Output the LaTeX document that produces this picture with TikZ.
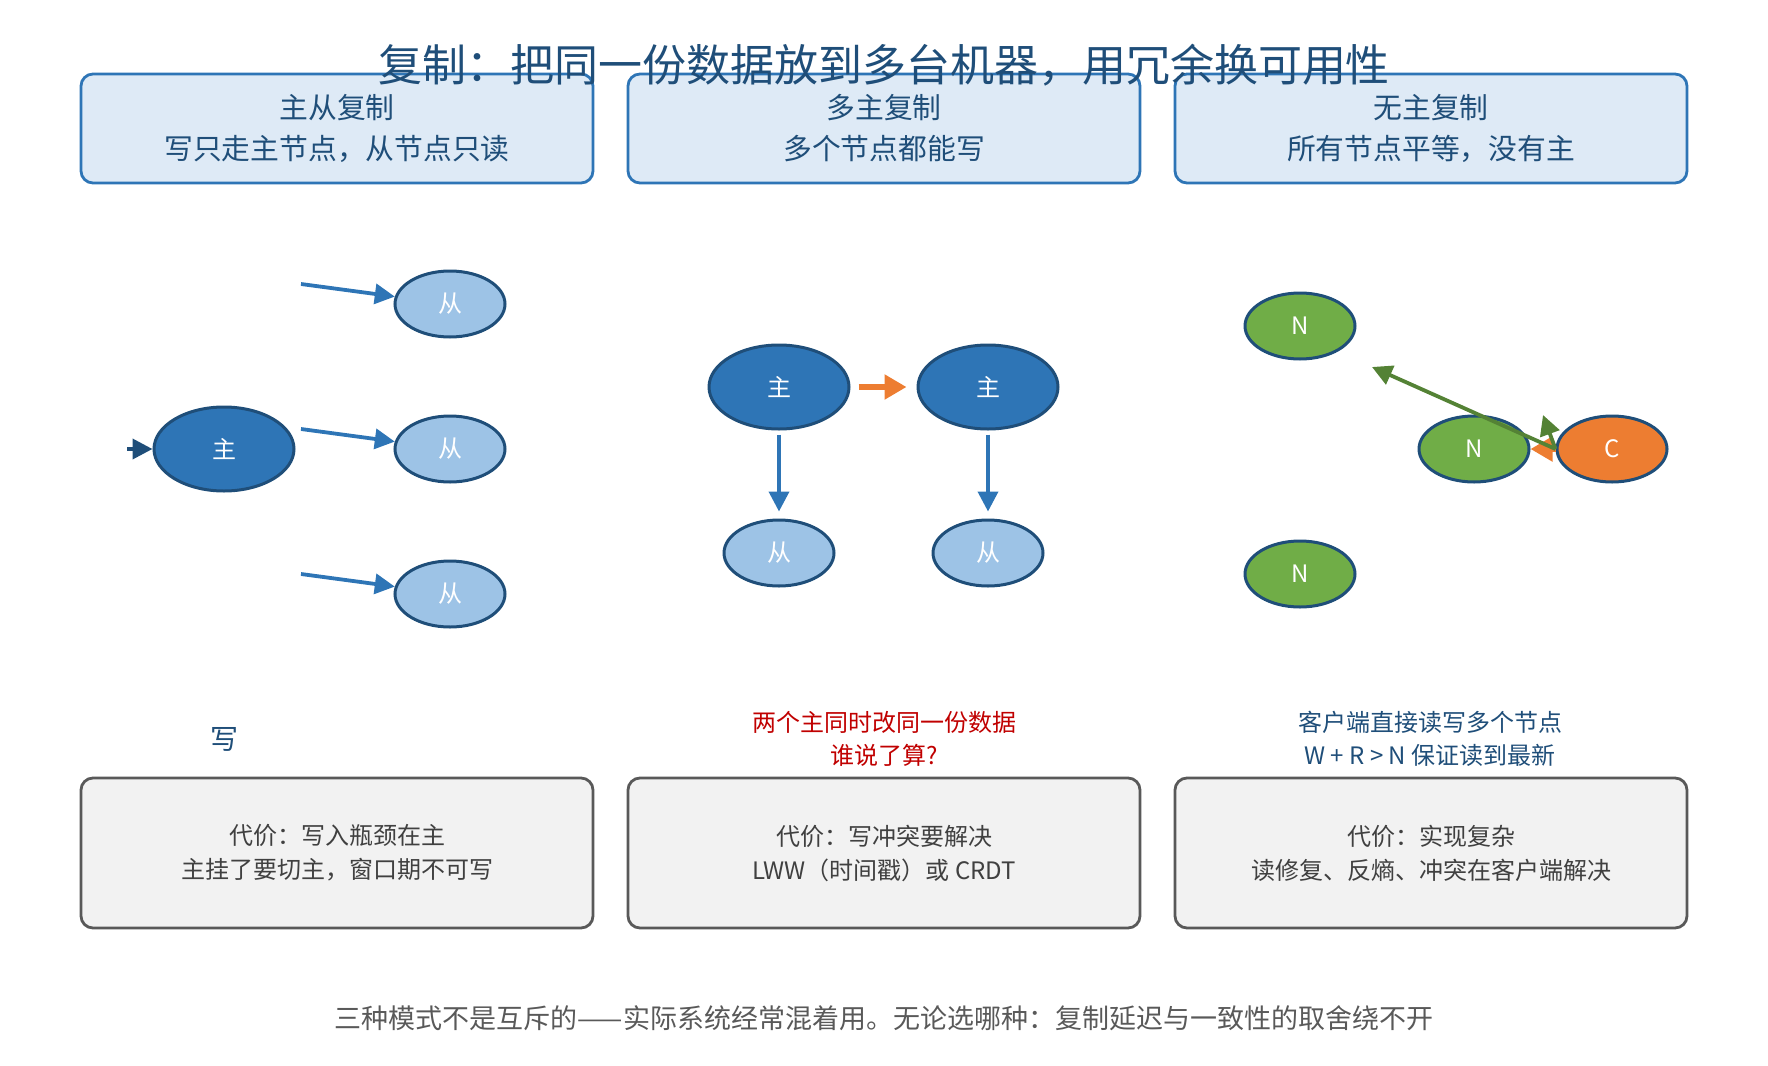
\documentclass[tikz,border=0pt]{standalone}
\usepackage{fontspec}
\setmainfont{Noto Sans CJK SC}
\usetikzlibrary{shapes.geometric,arrows.meta}
\usepackage{xcolor}

\definecolor{darkblue}{HTML}{1F4E79}
\definecolor{midblue}{HTML}{2E75B6}
\definecolor{lightblue}{HTML}{9DC3E6}
\definecolor{paleblue}{HTML}{DEEAF6}
\definecolor{nodegreen}{HTML}{70AD47}
\definecolor{arrowgreen}{HTML}{548235}
\definecolor{clientorange}{HTML}{ED7D31}
\definecolor{boxgray}{HTML}{F2F2F2}
\definecolor{linegray}{HTML}{595959}
\definecolor{textgray}{HTML}{404040}
\definecolor{alertred}{HTML}{C00000}

\begin{document}
\begin{tikzpicture}[x=0.5pt, y=-0.5pt,
  topbox/.style={draw=midblue, fill=paleblue, line width=1.4pt, rounded corners=6pt, minimum width=256pt, minimum height=54.5pt, align=center, text=darkblue, font=\fontsize{14.4}{20.5}\selectfont},
  costbox/.style={draw=linegray, fill=boxgray, line width=1.4pt, rounded corners=6pt, minimum width=256pt, minimum height=75pt, align=center, text=textgray, font=\fontsize{12}{17}\selectfont},
  master/.style={ellipse, draw=darkblue, line width=1.5pt, fill=midblue, text=white, minimum width=70pt, minimum height=42pt, inner sep=0pt, font=\fontsize{12}{14}\selectfont},
  replica/.style={master, fill=lightblue, minimum width=55pt, minimum height=33pt},
  peer/.style={replica, fill=nodegreen},
  client/.style={replica, fill=clientorange},
  flow/.style={line width=1.9pt, -{Triangle[length=10pt,width=10pt]}},
  wideflow/.style={line width=2.6pt, -{Triangle[length=11pt,width=12pt]}},
  note/.style={align=center, font=\fontsize{12}{16.5}\selectfont},
]
\useasboundingbox (0,0) rectangle (1768,1066);

% header boxes
\node[topbox] (h1) at (337,128.5) {主从复制\\写只走主节点，从节点只读};
\node[topbox] (h2) at (884,128.5) {多主复制\\多个节点都能写};
\node[topbox] (h3) at (1431,128.5) {无主复制\\所有节点平等，没有主};

\node[text=darkblue, font=\fontsize{22}{26}\selectfont] (title) at (884,65) {复制：把同一份数据放到多台机器，用冗余换可用性};

% leader / follower
\node[master] (m) at (224,449) {主};
\node[replica] (s1) at (450,304) {从};
\node[replica] (s2) at (450,449) {从};
\node[replica] (s3) at (450,594) {从};

\coordinate (win) at (127,449);
\coordinate (r1) at (301,284);
\coordinate (r2) at (301,429);
\coordinate (r3) at (301,574);

\draw[flow, darkblue] (win) -- (m);
\draw[flow, midblue] (r1) -- (s1);
\draw[flow, midblue] (r2) -- (s2);
\draw[flow, midblue] (r3) -- (s3);

\node[text=darkblue, font=\fontsize{14}{16}\selectfont] (wlabel) at (224,739) {写};

% multi leader
\node[master] (ma) at (779,387) {主};
\node[master] (mb) at (988,387) {主};
\node[replica] (sa) at (779,553) {从};
\node[replica] (sb) at (988,553) {从};

\draw[wideflow, clientorange, shorten <=4pt, shorten >=5pt] (ma) -- (mb);
\draw[flow, midblue, shorten <=2pt, shorten >=3.5pt] (ma) -- (sa);
\draw[flow, midblue, shorten <=2pt, shorten >=3.5pt] (mb) -- (sb);

\node[note, text=alertred] (conflict) at (884,738.5) {两个主同时改同一份数据\\谁说了算?};

% leaderless
\node[peer] (n1) at (1300,326) {N};
\node[peer] (n2) at (1474,449) {N};
\node[peer] (n3) at (1300,574) {N};
\node[client] (c) at (1612,449) {C};

\coordinate (g1) at (1372,367);
\coordinate (g2) at (1543,415);

\draw[wideflow, clientorange] (c) -- (n2);
\draw[flow, arrowgreen] (c.west) -- (g1);
\draw[flow, arrowgreen] (c.west) -- (g2);

\node[note, text=darkblue] (quorum) at (1430,738.5) {客户端直接读写多个节点\\W + R > N 保证读到最新};

% cost boxes
\node[costbox] (k1) at (337,853) {代价：写入瓶颈在主\\主挂了要切主，窗口期不可写};
\node[costbox] (k2) at (884,853) {代价：写冲突要解决\\LWW（时间戳）或 CRDT};
\node[costbox] (k3) at (1431,853) {代价：实现复杂\\读修复、反熵、冲突在客户端解决};

\node[text=linegray, font=\fontsize{13.5}{16}\selectfont] (footer) at (884,1018) {三种模式不是互斥的——实际系统经常混着用。无论选哪种：复制延迟与一致性的取舍绕不开};

\end{tikzpicture}
\end{document}
